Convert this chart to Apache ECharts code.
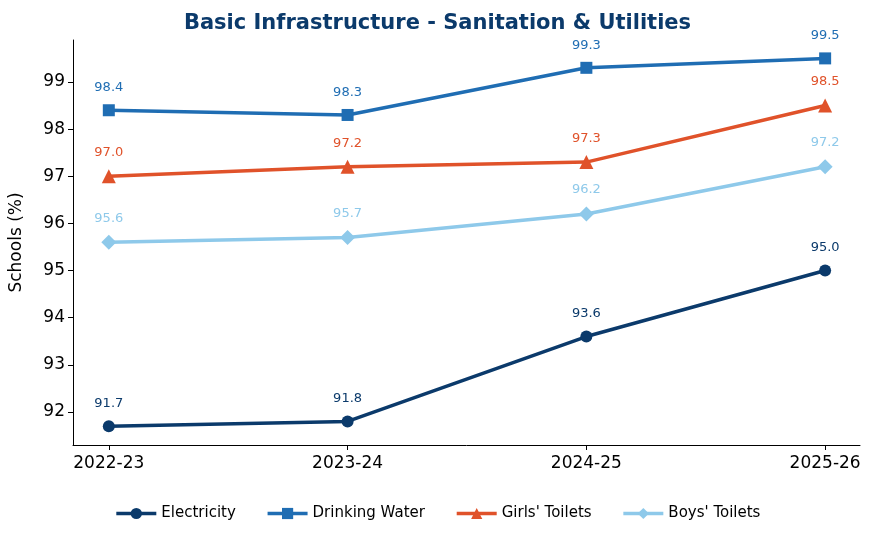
<!DOCTYPE html>
<html><head><meta charset="utf-8">
<script src="https://cdn.jsdelivr.net/npm/echarts@6/dist/echarts.min.js"></script>
<style>html,body{margin:0;background:#fff}#c{width:875px;height:542px}</style>
</head><body><div id="c"></div>
<script>
const categories = ["2022-23","2023-24","2024-25","2025-26"];
const electricity = [91.7, 91.8, 93.6, 95.0];
const drinkingWater = [98.4, 98.3, 99.3, 99.5];
const girlsToilets = [97.0, 97.2, 97.3, 98.5];
const boysToilets = [95.6, 95.7, 96.2, 97.2];
const yTicks = [92,93,94,95,96,97,98,99];

const font = "DejaVu Sans";
function mk(name, data, color, symbol, size) {
  return {
    name, type: 'line', data: data.map((v,i)=>[i,v]), symbol, symbolSize: size,
    lineStyle: {width: 3.5, color}, itemStyle: {color},
    label: {show: true, position: 'top', distance: 10, color, fontSize: 13, fontFamily: font,
      formatter: p => p.value[1].toFixed(1)}
  };
}
const chart = echarts.init(document.getElementById('c'));
chart.setOption({
  animation: false,
  title: {text: 'Basic Infrastructure - Sanitation & Utilities', left: 'center', top: 8,
    textStyle: {fontFamily: font, fontSize: 21, fontWeight: 'bold', color: '#0b3a6b'}},
  grid: {left: 72, right: 15, top: 40, bottom: 97},
  xAxis: {type: 'value', min: -0.15, max: 3.146,
    axisLine: {onZero: false, lineStyle: {color: '#000'}}, splitLine: {show: false},
    axisTick: {customValues: [0,1,2,3], length: 5, lineStyle: {color: '#000'}},
    axisLabel: {customValues: [0,1,2,3], formatter: v => categories[v], color: '#000', fontSize: 17, fontFamily: font, margin: 10}},
  yAxis: {type: 'value', min: 91.3, max: 99.89, name: 'Schools (%)', nameLocation: 'middle', nameGap: 48,
    nameTextStyle: {fontSize: 17, fontFamily: font, color: '#000'},
    axisLine: {show: true, onZero: false, lineStyle: {color: '#000'}}, splitLine: {show: false},
    axisTick: {show: true, customValues: yTicks, length: 5, lineStyle: {color: '#000'}},
    axisLabel: {customValues: yTicks, color: '#000', fontSize: 17, fontFamily: font}},
  legend: {bottom: 16, itemWidth: 40, itemHeight: 14, itemGap: 30,
    lineStyle: {width: 3.5},
    textStyle: {fontSize: 15, fontFamily: font, color: '#000'},
    data: ['Electricity','Drinking Water',"Girls' Toilets","Boys' Toilets"]},
  series: [
    mk('Electricity', electricity, '#0b3a6b', 'circle', 12),
    mk('Drinking Water', drinkingWater, '#1f6db3', 'rect', 12),
    mk("Girls' Toilets", girlsToilets, '#e0522a', 'triangle', 14),
    mk("Boys' Toilets", boysToilets, '#8ec9ea', 'diamond', 15)
  ]
});
</script></body></html>
